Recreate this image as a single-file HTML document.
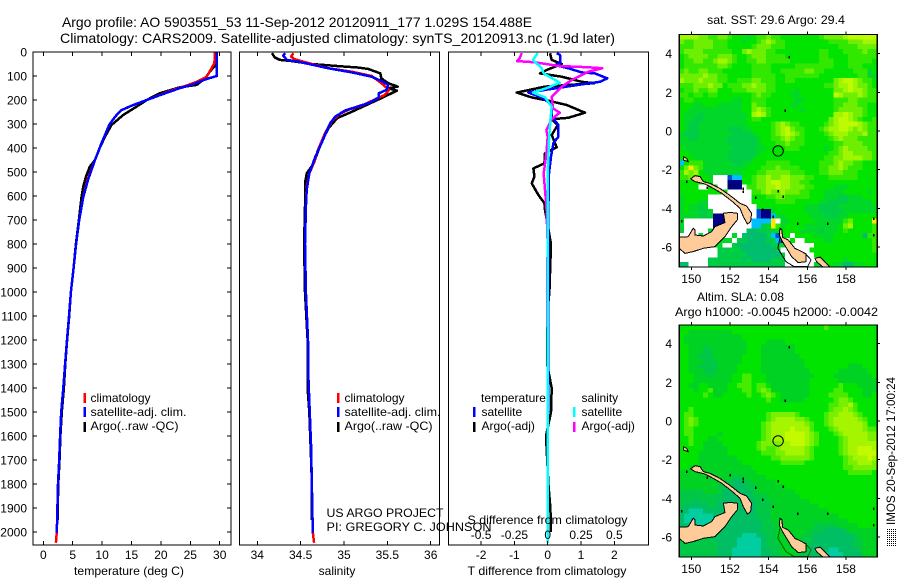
<!DOCTYPE html>
<html>
<head>
<meta charset="utf-8">
<title>Argo profile</title>
<style>
html,body{margin:0;padding:0;background:#fff;width:900px;height:580px;overflow:hidden}
svg{display:block}
text{font-family:"Liberation Sans",sans-serif;font-size:12px;fill:#000}
</style>
</head>
<body>
<svg id="chart" width="900" height="580" viewBox="0 0 900 580" xmlns="http://www.w3.org/2000/svg">
<defs>
<clipPath id="clip-map1"><rect x="679" y="34" width="198" height="233"/></clipPath>
<clipPath id="clip-map2"><rect x="679" y="325" width="198" height="232"/></clipPath>
</defs>
<rect width="900" height="580" fill="#fff"/>
<text x="62" y="27" style="font-size:14px" textLength="470" lengthAdjust="spacingAndGlyphs">Argo profile: AO 5903551_53 11-Sep-2012 20120911_177 1.029S 154.488E</text>
<text x="60" y="43" style="font-size:14px" textLength="555" lengthAdjust="spacingAndGlyphs">Climatology: CARS2009. Satellite-adjusted climatology: synTS_20120913.nc (1.9d later)</text>

<g id="layer-plots"></g>
<g id="layer-maps"></g>

<text x="74" y="575" textLength="110" lengthAdjust="spacingAndGlyphs">temperature (deg C)</text>
<text x="337" y="575" text-anchor="middle">salinity</text>
<text x="467.5" y="575" textLength="159" lengthAdjust="spacingAndGlyphs">T difference from climatology</text>
<text x="467.5" y="524" textLength="160" lengthAdjust="spacingAndGlyphs">S difference from climatology</text>

<g>
<rect x="83.5" y="393" width="2.5" height="10" fill="#f00"/><text x="90.5" y="402">climatology</text>
<rect x="83.5" y="407" width="2.5" height="10" fill="#00f"/><text x="90.5" y="416" textLength="96" lengthAdjust="spacingAndGlyphs">satellite-adj. clim.</text>
<rect x="83.5" y="422" width="2.5" height="10" fill="#000"/><text x="90.5" y="430" textLength="88" lengthAdjust="spacingAndGlyphs">Argo(..raw -QC)</text>
</g>
<g>
<rect x="337" y="393" width="2.5" height="10" fill="#f00"/><text x="344.5" y="402">climatology</text>
<rect x="337" y="407" width="2.5" height="10" fill="#00f"/><text x="344.5" y="416" textLength="96" lengthAdjust="spacingAndGlyphs">satellite-adj. clim.</text>
<rect x="337" y="422" width="2.5" height="10" fill="#000"/><text x="344.5" y="430" textLength="88" lengthAdjust="spacingAndGlyphs">Argo(..raw -QC)</text>
</g>
<g>
<text x="481" y="402" textLength="65" lengthAdjust="spacingAndGlyphs">temperature</text>
<rect x="473" y="407" width="2.5" height="10" fill="#00f"/><text x="481.5" y="416">satellite</text>
<rect x="473" y="422" width="2.5" height="10" fill="#000"/><text x="481.5" y="430">Argo(-adj)</text>
<text x="581.5" y="402">salinity</text>
<rect x="573" y="407" width="2.5" height="10" fill="#0ff"/><text x="581.5" y="416">satellite</text>
<rect x="573" y="422" width="2.5" height="10" fill="#f0f"/><text x="581.5" y="430">Argo(-adj)</text>
</g>
<text x="326.5" y="517" textLength="117" lengthAdjust="spacingAndGlyphs">US ARGO PROJECT</text>
<text x="326.5" y="531" textLength="165" lengthAdjust="spacingAndGlyphs">PI: GREGORY C. JOHNSON</text>

<text x="776" y="24" text-anchor="middle" textLength="138" lengthAdjust="spacingAndGlyphs">sat. SST: 29.6 Argo: 29.4</text>
<text x="697" y="301" textLength="87" lengthAdjust="spacingAndGlyphs">Altim. SLA: 0.08</text>
<text x="675" y="316" textLength="203" lengthAdjust="spacingAndGlyphs">Argo h1000: -0.0045 h2000: -0.0042</text>
<text transform="translate(895,525) rotate(-90)" x="0" y="0" textLength="148" lengthAdjust="spacingAndGlyphs">IMOS 20-Sep-2012 17:00:24</text>
<g stroke="#000" stroke-width="1" stroke-dasharray="1 1" shape-rendering="crispEdges">
<path d="M887.5 529V546M889.5 529V546M891.5 529V546M893.5 529V546M895.5 529V546"/>
</g>
</svg>
<script>
// ---------- Axis tick labels ----------
const depthTicks = [0,100,200,300,400,500,600,700,800,900,1000,1100,1200,1300,1400,1500,1600,1700,1800,1900,2000];
const tempTicks = [0,5,10,15,20,25,30];
const salTicks = [34,34.5,35,35.5,36];
const diffTTicks = [-2,-1,0,1,2];
const diffSTicks = [-0.5,-0.25,0,0.25,0.5];
const lonTicks = [150,152,154,156,158];
const latTicks = [4,2,0,-2,-4,-6];

// ---------- Temperature profiles ----------
const tempClimDepth = [0,46,103,124,142,158,179,200,221,242,270,304,380,450,533,604,700,800,900,1000,1100,1200,1300,1400,1500,1600,1700,1800,1900,2000,2045];
const tempClim = [29.2,29.1,27.8,26.1,24.1,22.1,19.8,17.6,15.3,13.3,12.2,11.2,9.9,8.8,7.5,6.8,6.1,5.58,5.15,4.7,4.37,4.03,3.7,3.4,3.05,2.85,2.7,2.5,2.4,2.3,2.15];
const tempSatDepth = [0,100,112,137,150,179,200,221,242,270,304,380,450,533,604,700,800,900,1000,1100,1200,1300,1400,1500,1600,1700,1800,1900,2005];
const tempSat = [29.5,29.5,27.8,25.2,23.3,19.9,17.6,15.3,13.3,12.2,11.2,9.9,8.8,7.6,6.8,6.1,5.58,5.15,4.7,4.37,4.03,3.7,3.4,3.05,2.85,2.7,2.5,2.4,2.3];
const tempArgoDepth = [50,82,108,137,147,172,189,200,227,262,304,353,400,450,478,520,560,604,700,800,900,1000,1100,1200,1300,1400,1500,1600,1700,1800,1900,1950];
const tempArgo = [29.5,28.3,27.6,26.1,23.2,19.8,18.4,17.6,15.9,13.6,11.6,10.5,9.6,8.8,7.9,7.25,6.8,6.5,6.05,5.55,5.15,4.7,4.4,4.05,3.75,3.5,3.15,2.9,2.75,2.55,2.45,2.45];

// ---------- Salinity profiles ----------
const salClimDepth = [5,19,30,44,68,82,100,130,158,179,197,224,238,258,288,339,408,464,506,561,644,800,1000,1200,1367,1644,2000,2045];
const salClim = [34.415,34.39,34.43,34.57,34.82,35.09,35.32,35.43,35.52,35.47,35.36,35.2,35.07,34.95,34.86,34.78,34.7,34.65,34.6,34.57,34.56,34.55,34.56,34.585,34.59,34.62,34.64,34.655];
const salSatDepth = [5,15,33,40,68,85,103,124,137,158,172,189,211,228,244,269,297,380,436,506,575,644,800,1000,1200,1367,1644,2005];
const salSat = [34.32,34.3,34.34,34.47,34.82,35.09,35.32,35.45,35.51,35.49,35.4,35.4,35.3,35.15,35.01,34.9,34.84,34.74,34.67,34.6,34.57,34.56,34.55,34.56,34.585,34.59,34.62,34.64];
const salArgoDepth = [5,22,33,38,50,58,65,71,89,110,130,144,151,161,186,214,249,276,318,374,464,506,547,644,800,1000,1200,1400,1500,1700,1800,1950];
const salArgo = [34.17,34.2,34.26,34.4,34.63,34.9,35.17,35.28,35.42,35.43,35.51,35.62,35.51,35.61,35.47,35.3,35.09,34.92,34.82,34.74,34.65,34.57,34.55,34.55,34.54,34.55,34.58,34.58,34.6,34.62,34.63,34.63];

// ---------- Difference profiles ----------
const diffTSatDepth = [5,12,47,54,68,85,89,110,124,137,158,169,179,193,221,269,304,353,380,436,506,644,1000,1500,2000];
const diffTSat = [0.27,0.37,0.37,0.22,0.62,1.02,1.42,1.79,1.57,0.92,-0.08,-0.58,-0.38,-0.13,0.12,0.12,0.32,0.32,0.17,0.1,0.04,0.02,0.01,0.01,0];
const diffTArgoDepth = [5,33,50,75,89,103,124,130,144,169,189,203,221,253,274,280,304,346,397,422,464,485,519,547,596,630,658,800,1000,1100,1300,1400,1500,1600,1800,1900,2000];
const diffTArgo = [0.07,0.12,0.42,-0.03,-0.23,0.42,1.02,1.4,-0.08,-0.93,-0.48,0.02,0.57,1.12,0.62,0.12,0.3,0.12,0.27,-0.08,-0.1,-0.43,-0.4,-0.48,-0.28,-0.1,-0.08,0.1,0.05,-0.02,-0.02,0.12,0.1,-0.05,0.02,0.08,0.1];
const diffSArgoDepth = [5,26,38,43,58,64,68,82,117,144,186,235,253,280,325,353,422,506,575,644,800,1000,1200,1400,2000];
const diffSArgo = [-0.195,-0.21,-0.23,-0.095,0.08,0.32,0.41,0.305,0.18,0.105,0.03,0.04,0.09,0.03,-0.01,0,-0.01,-0.03,-0.02,-0.01,0,-0.005,0,0,0];
const diffSSatDepth = [5,33,68,89,128,151,169,189,228,283,367,506,644,1000,1500,2045];
const diffSSat = [-0.075,-0.11,-0.045,-0.03,0.09,-0.01,-0.11,-0.02,0.03,0.02,0.01,0,0,0,0,0];

// ---------- SST map cells (one row per latitude band, north to south) ----------
const sstRows = [
"ggggffeeffedddcdeefeeddddddddeffffghhhhhh",
"feeffffeeedddcddefgfeedddddddddeeeefffggg",
"eeeffffeeedddddefffeeedddddddddddeeeeffff",
"effffeeeeeeddfgfffeedddddddddeedddeeeefee",
"deffffeefffeddefffeeeedddddddeeddddeeeeee",
"deeffeefggfeddeeffeeeeeddddddeeedddeeeeed",
"deeeeeeeffeddddeeeedddddeeeeeeeedddeeeddd",
"efeeffeeeddddddeeeeddeeeeeffeeddddddeeecd",
"fffffgffeedddddeeeeeddeeeeeeeddddddddeecc",
"gfffgfffeeddeeeffeeeddeeddddddddfghhgfeed",
"eeefffgffdeeeffgffeeddddddddddeefgghgffed",
"deefeeffdddeeeffffeeddddcdddddddffghggfee",
"eedeedeedddddddefeeddddccdddddddhgfffgfee",
"deeddddddddccddeeeddddddccddddddeeeffeeee",
"dddccdddcccccddfeedddddccdddddddeefffeedd",
"ddcccccccccccddfgfeddddddcddddddefffffedd",
"dcccbcccccccccdghgedddddddddddddgghgffedd",
"dccbbcccccccccdeeddddddddddddddfghhgfedde",
"dcbbccccccccccdddddefgfeedddddefghhhhgfee",
"dcbbccccccbbbccddddefghfeedddefgghhgfgfee",
"cbbbcccccccbbbbcdddefghgfeddddefgggfffgee",
"ccbbccccccbbbbbbcddeefgfeedddddefgfffeeee",
"ccccccccccbbbbbbcdddeefeeeddddddeeffffeee",
"dccccccccccbbbbbccddddeeedddddcdefgffffee",
"ddccccccccbbbbbbcddddddddddddddeefggffffe",
"dddcccccccbbbbbcddddddddddddddeeffggggffe",
"Cdeeeccccccbbccdddeeeeeddddddeeefgffeeddd",
"dfyfecccccccccdddeeefeeeeddddeeffgfeeeddd",
"egfgdccccccccdddeefffffeeedddeefffeeedddd",
"eefdddc...BCCddeffgffggfffeedddeeeeeedddd",
"ddddddd...NNNddeffghhggffeedddddddddddddd",
"dddd..dd..NNN.eeffgghggfffeeddddcccdddddd",
"dddddddddd.....eefgffgfffeedddccccdddddcd",
"cddddd.........dddeeffeeeeedddcccbbcccddd",
"cdddcc.........dddddeeeedddddccbbbbcccccd",
"cdccbc..........ddddddddddcccbbbbcccccccc",
"cdccbbc.........BNNcddddddcccbbbbbccccccc",
"ccccbbbNNN......BNNCccdddddcccbbbccdddddd",
"c......NNN.....CCCCy.ccdddddccccccefddddy",
"c......NNN.....CCbcyecddddcccccccdfgdddde",
"b.....ccc.....aabbbcdddddccccbcccdeddddde",
"....c......c.aaaaabCBdd.ddddccccddddddaee",
"ccccccccccc.bbaaaabbCN.d..ddddccdddddddde",
"ccccccccc..baaaaaaabbc......dddddddddddde",
"........bbbbbaaaaaaab......ddddddddddddde",
"........bbbbbbaaaaaaab......ddddddddddddd",
"......bbbbbbbabaaaabbb.......dddddcdddddd",
"aa....bbbbbbbbbbbbbbbb......ccddccaaccddd"
];

// ---------- SLA map cells ----------
const slaRows = [
"eeeeeeeeeeeeeeeeeeeeeeeeeeeeeefeeeeeeeeee",
"eedddddddddeeeeeeeeeeeeeeeeeeeeeeeeeeeeee",
"eddddddddddddeeeeeeeeeeeeeeeeeeeeeeeeeeee",
"edddddddddddddeeeeddddeeeeeeeeeeeeeeeeeee",
"eedddcddddddddeeedddddddeeeeeeeeeeeeeeeee",
"eedddccdddddddeeedddddddeeeeeeeeeeeeeeeee",
"eeddcccddddddeeeeddddddddeeeeeeeeeeeeeeee",
"eedddcccdddddeeeedddddddddeeeeeeeeeeeeeee",
"eeddccccddddeeeeedddddddddeeeeeeeeedddeee",
"eedddcccddddeeeeeddddddddddeeeeeeddddddee",
"eeedddcddddeeffeeeddddddddddeeeedddddddde",
"eeeddddddddeeffeeedddddddddeeeeeedddddddd",
"eeddeeddddeefffeffeddddddddeeeeeefeeedddd",
"eeedeefdddeeeffefgfddddddddeeeeeffeeeeddd",
"eeeeefeddeeeeefeefgfeddddddeeeeffffeeedde",
"eeeeeeeeeeeeeeeeeefeedddddeeeeeefggfeeeee",
"eeeeeeeeeeeeeeeeeeeeeeeeeeeeeeeffgghfeeee",
"eefeeeeeeeeeeeeeeeeeeeeeeeeeeeefgghgfeeee",
"effeeeeeeeeeeeeeeefgggggfeeeeefgghhhgfeee",
"efgfeeeeeeeeeeeeeefghhhhggfeeefghhhhhgfee",
"efgfeeeeeeeeeeeeefghhhhhhhgfeefghhhhhhgee",
"effeeeeeeeeeeeeeefghhhhihhhfeeefghhhhhgff",
"effeeeeedeeeeeeeefghhhiiiihgfeeefghhhhhgg",
"eefeeeddeeeeeeeeefghhhiiiihgfeeeefghhhhgg",
"eefeeddddeeeeeeefgggghhiiihgfeeeefghhhhhh",
"eeeeedddddeeeeeefgffghhhhhgfeeeeefghhiiih",
"eeeeddddddeeeeeeefffgghhhhgfeeeeefghhiiii",
"eeeeddddddddeeeeeeeffggggggfeeeeeefghhhih",
"eeeedddddddddeeeeeeeefffffeeeeeeeefgghhhg",
"eedddddddddddddeeeeeeeeeeeeeeeeeeeffggggg",
"ddddddddddddddddeeeeeeeeeeeeeeeeeeefffffe",
"dddddddddddccdddddeeeeeeeeeeeeeeeeeeeeeee",
"dddddddddccbbccdddddeeeeeeeeeeeeeeeeeeeee",
"ddddddddccbbbbccddddddeeeeeeeeeeeeeeeeeee",
"cccccdddcbbbbbbcddddddddeeeeeeeeeeeeeeeee",
"cccccccccbbbbbbcccdddddddeeeeeeeeeeeeeeee",
"cccbccccbbbbbbbbcccddddddddeeeeeeeeeeeeee",
"cbbbbbccbbbbbbbbcccddddddddddeeeeeeeeeeee",
"bbaaabbbbbbbbbbbcccddddddddddddeeeeeeeeee",
"baaaaaabbbbbbbbbcccddddddddddddddeeeeeeee",
"baaaaaaabbbbbbbbbccddddddddddddddddeeeeee",
"bbaaaaabbbbbbbbbbcccddddddddcccccddddeeee",
"ccbbbbbbbbbbbbbbbcccdddddddcccbbbbcdddddd",
"ccccbbbbbbbbbaaabbccddddddccbbbbbbbbcdddd",
"cccccccbbbbbaaaaabccdddddcccbbbbbbbbccddd",
"ccccccccbbbbaaaaabcccddddccbbbbbbbbbccddd",
"ccccccccbbbaaaaaabbccddddccbbbbaabbbbcddd",
"ccccccccbbbaaaaaabbccddddccbbbaaaabbbbddd"
];

// ---------- Coastlines (lon, lat) ----------
const newBritainLon = [149.38,149.84,150.1,150.19,150.19,150.62,151.05,151.22,151.74,151.66,152,152.38,152.38,152.09,151.74,151.22,150.62,150.1,149.67,149.38];
const newBritainLat = [-5.5,-5.47,-5.03,-5.12,-5.38,-5.43,-5.21,-4.95,-4.74,-4.26,-4.21,-4.26,-4.6,-4.95,-5.47,-5.98,-6.07,-6.24,-6.33,-6.07];
const newIrelandLon = [149.97,150.19,150.45,150.62,150.97,151.48,152.09,152.52,152.86,153.12,153.07,152.9,152.69,152.52,152.09,151.57,151.14,150.71,150.19];
const newIrelandLat = [-2.48,-2.31,-2.36,-2.62,-2.71,-2.97,-3.4,-3.74,-3.88,-4.26,-4.69,-4.81,-4.43,-4,-3.62,-3.22,-2.97,-2.74,-2.62];
const bougainvilleLon = [154.59,154.69,154.72,155.02,155.36,155.71,155.93,155.93,155.53,155.19,154.93,154.72,154.55];
const bougainvilleLat = [-5.03,-5.12,-5.5,-5.64,-6.07,-6.24,-6.36,-6.76,-6.81,-6.5,-6.07,-5.72,-5.38];
const choiseulLon = [156.4,156.66,156.91,157.17,156.83,156.48];
const choiseulLat = [-6.59,-6.53,-6.76,-7.02,-7.05,-6.76];
const hanoverLon = [149.59,149.76,149.84,149.59];
const hanoverLat = [-1.33,-1.41,-1.59,-1.5];
const contourLon = [154.62,154.48,154.9,155.33,156.02,156.2,155.95];
const contourLat = [-5.38,-6.07,-6.76,-7.02,-7.02,-6.67,-6.4];
const isletLon = [155.02,154.81,154.71,154.45,152.64,151.97,153.29,153.67,154.19,155.48,157.03,159.41,159.41,149.47,149.72,150.79,152.66];
const isletLat = [3.84,1.05,-3.4,-3.1,-2.97,-2.79,-3.45,-4.05,-4.43,-4.78,-4.78,-4.52,-5.38,-4.66,-2.62,-2.91,-3.14];
const profileLon = [154.488];
const profileLat = [-1.029];

// ---------- Colour keys ----------
const sstColors = {a:'#00be6e',b:'#00cd46',c:'#00d728',d:'#00e400',e:'#32e800',f:'#6eee00',g:'#a0f500',h:'#befa00',y:'#ffe600',C:'#00beff',B:'#0050dc',N:'#000082','.':'#ffffff'};
const slaColors = {a:'#00cda0',b:'#00be64',c:'#00c846',d:'#00d223',e:'#00e400',f:'#46eb00',g:'#78f000',h:'#a5f500',i:'#c3fa00'};

// ---------- Axis functions ----------
const NS = 'http://www.w3.org/2000/svg';
const depthY = d => 52 + d * 0.24;
const tempX = t => 43.3 + t * 5.88;
const salX = s => 344 + (s - 35) * 86.7;
const diffTX = t => 547.7 + t * 33.3;
const diffSX = s => 547.7 + s * 133.2;
const lonX = lon => 691.3 + (lon - 150) * 19.33;
const map1Y = lat => 131 - lat * 19.33;
const map2Y = lat => 421 - lat * 19.33;

const plots = document.getElementById('layer-plots');
const maps = document.getElementById('layer-maps');

function make(tag, parent, props) {
  const el = document.createElementNS(NS, tag);
  for (const k in props) el.setAttribute(k, props[k]);
  parent.appendChild(el);
  return el;
}
function label(parent, x, y, str, anchor) {
  const t = make('text', parent, {x: x, y: y, 'text-anchor': anchor});
  t.textContent = str;
  
  
  return t;
}
function tickLine(parent, x1, y1, x2, y2) {
  const l = make('line', parent, {x1: x1, y1: y1, x2: x2, y2: y2, stroke: '#000', 'stroke-width': 1, 'shape-rendering': 'crispEdges'});
  
  
}
function frame(parent, x, y, w, h) {
  const r = make('rect', parent, {x: x, y: y, width: w, height: h, fill: 'none', stroke: '#000', 'stroke-width': 1.4, 'shape-rendering': 'crispEdges'});
  
  
}
function curve(parent, xFn, depths, values, color, name) {
  const pts = values.map((v, i) => xFn(v).toFixed(1) + ',' + depthY(depths[i]).toFixed(1)).join(' ');
  const p = make('polyline', parent, {points: pts, fill: 'none', stroke: color, 'stroke-width': 2.5, 'stroke-linejoin': 'round', 'shape-rendering': 'crispEdges'});
  
  
}

// ---------- Profile panels ----------
const P_TOP = 52, P_BOT = 545;

const g1 = make('g', plots, {});


curve(g1, tempX, tempArgoDepth, tempArgo, '#000', 'temperature-argo-line');
curve(g1, tempX, tempClimDepth, tempClim, '#f00', 'temperature-climatology-line');
curve(g1, tempX, tempSatDepth, tempSat, '#00f', 'temperature-satellite-line');
frame(g1, 33, P_TOP, 198, P_BOT - P_TOP);
depthTicks.forEach(d => {
  tickLine(g1, 33, depthY(d), 37, depthY(d));
  tickLine(g1, 227, depthY(d), 231, depthY(d));
  label(g1, 27, depthY(d) + 4.5, String(d), 'end');
});
tempTicks.forEach(t => {
  tickLine(g1, tempX(t), P_TOP, tempX(t), P_TOP + 4);
  tickLine(g1, tempX(t), P_BOT - 4, tempX(t), P_BOT);
  label(g1, tempX(t), 559, String(t), 'middle');
});

const g2 = make('g', plots, {});


curve(g2, salX, salArgoDepth, salArgo, '#000', 'salinity-argo-line');
curve(g2, salX, salClimDepth, salClim, '#f00', 'salinity-climatology-line');
curve(g2, salX, salSatDepth, salSat, '#00f', 'salinity-satellite-line');
frame(g2, 239.5, P_TOP, 200, P_BOT - P_TOP);
salTicks.forEach(s => {
  tickLine(g2, salX(s), P_TOP, salX(s), P_TOP + 4);
  tickLine(g2, salX(s), P_BOT - 4, salX(s), P_BOT);
  label(g2, salX(s), 559, String(s), 'middle');
});

const g3 = make('g', plots, {});


curve(g3, diffTX, diffTArgoDepth, diffTArgo, '#000', 'difference-temperature-argo-line');
curve(g3, diffTX, diffTSatDepth, diffTSat, '#00f', 'difference-temperature-satellite-line');
curve(g3, diffSX, diffSArgoDepth, diffSArgo, '#f0f', 'difference-salinity-argo-line');
curve(g3, diffSX, diffSSatDepth, diffSSat, '#0ff', 'difference-salinity-satellite-line');
frame(g3, 448.5, P_TOP, 200, P_BOT - P_TOP);
diffTTicks.forEach(t => {
  tickLine(g3, diffTX(t), P_TOP, diffTX(t), P_TOP + 4);
  tickLine(g3, diffTX(t), P_BOT - 4, diffTX(t), P_BOT);
  label(g3, diffTX(t), 559, String(t), 'middle');
});
diffSTicks.forEach(s => {
  label(g3, diffSX(s), 539, String(s), 'middle');
});

// ---------- Maps ----------
function polygon(parent, lons, lats, yFn, fill, stroke, name) {
  const pts = lons.map((lon, i) => lonX(lon).toFixed(1) + ',' + yFn(lats[i]).toFixed(1)).join(' ');
  const p = make(fill === 'none' ? 'polyline' : 'polygon', parent, {points: pts, fill: fill, stroke: stroke, 'stroke-width': 1, 'shape-rendering': 'crispEdges'});
  
  
}
function drawMap(rows, colors, yFn, top, bottom, clipId, contourColor, mapName) {
  const g = make('g', maps, {'clip-path': 'url(#' + clipId + ')'});
  
  
  const nRows = rows.length, nCols = 41;
  const cw = 198 / nCols, ch = (bottom - top) / nRows;
  rows.forEach((row, r) => {
    for (let c = 0; c < nCols; c++) {
      const key = row.charAt(Math.min(c, row.length - 1));
      const cell = make('rect', g, {
        x: (679 + c * cw).toFixed(2), y: (top + r * ch).toFixed(2),
        width: (cw + 0.6).toFixed(2), height: (ch + 0.6).toFixed(2),
        fill: colors[key], 'shape-rendering': 'crispEdges'
      });
      
      
    }
  });
  const land = '#ffcc99';
  polygon(g, contourLon, contourLat, yFn, 'none', contourColor, 'reef-contour');
  polygon(g, newBritainLon, newBritainLat, yFn, land, '#000', 'new-britain-coast');
  polygon(g, newIrelandLon, newIrelandLat, yFn, land, '#000', 'new-ireland-coast');
  polygon(g, bougainvilleLon, bougainvilleLat, yFn, land, '#000', 'bougainville-coast');
  polygon(g, choiseulLon, choiseulLat, yFn, land, '#000', 'choiseul-coast');
  polygon(g, hanoverLon, hanoverLat, yFn, land, '#000', 'new-hanover-coast');
  isletLon.forEach((lon, i) => {
    const m = make('rect', g, {x: lonX(lon).toFixed(1), y: (yFn(isletLat[i]) - 1).toFixed(1), width: 1.5, height: 2.5, fill: '#000', 'shape-rendering': 'crispEdges'});
    
    
  });
  const marker = make('circle', g, {cx: lonX(profileLon[0]).toFixed(1), cy: yFn(profileLat[0]).toFixed(1), r: 5.2, fill: 'none', stroke: '#000', 'stroke-width': 1});
  
  

  const fg = make('g', maps, {});
  
  
  frame(fg, 679.3, top, 198, bottom - top);
  lonTicks.forEach(lon => {
    tickLine(fg, lonX(lon), top - 3, lonX(lon), top);
    tickLine(fg, lonX(lon), bottom, lonX(lon), bottom + 3);
    label(fg, lonX(lon), bottom + 16, String(lon), 'middle');
  });
  latTicks.forEach(lat => {
    tickLine(fg, 877, yFn(lat), 880, yFn(lat));
    label(fg, 672, yFn(lat) + 4.5, String(lat), 'end');
  });
}
drawMap(sstRows, sstColors, map1Y, 34.5, 267, 'clip-map1', '#000', 'sst-map');
drawMap(slaRows, slaColors, map2Y, 325, 557, 'clip-map2', '#006400', 'sla-map');
</script>
</body>
</html>
